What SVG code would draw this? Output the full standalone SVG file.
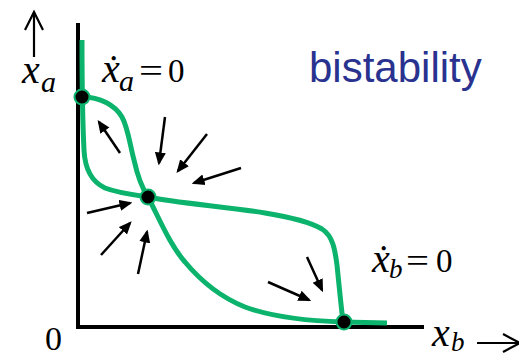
<svg xmlns="http://www.w3.org/2000/svg" width="519" height="357" viewBox="0 0 519 357">
<style>
  .axis { stroke: #000; stroke-width: 4; fill: none; }
  .curve { stroke: #0bb36c; stroke-width: 5; fill: none; stroke-linecap: butt; }
  .flow { stroke: #000; stroke-width: 2.5; fill: none; marker-end: url(#head); }
  .thin { stroke: #000; stroke-width: 2.2; fill: none; }
  .eq { fill: #000; stroke: #0bb36c; stroke-width: 2; }
  .m { font-family: "Liberation Serif", "Times New Roman", serif; fill: #000; }
  .i { font-style: italic; }
  .title { font-family: "Liberation Sans", Arial, sans-serif; font-size: 42px; fill: #29338f; }
</style>
<defs>
  <marker id="head" markerUnits="userSpaceOnUse" markerWidth="13" markerHeight="12" refX="10.5" refY="6" orient="auto">
    <path d="M0,0.5 L13,6 L0,11.5 Z" fill="#000"/>
  </marker>
</defs>

<g id="axes">
  <line class="axis" x1="78" y1="23" x2="78" y2="329"/>
  <line class="axis" x1="76" y1="327" x2="424" y2="327"/>
  <line class="thin" x1="34" y1="57" x2="34" y2="12"/>
  <polyline class="thin" points="25,30 34,12 43,30"/>
  <line class="thin" x1="477" y1="343" x2="519" y2="343"/>
  <polyline class="thin" points="503,334 520,343 503,352"/>
</g>

<g id="nullclines">
  <path id="nullcline-a" class="curve" d="M82,40 C82,70 83,130 84,150 C85,170 92,182 105,188 C118,193 135,195 148,197 C175,203 230,207 265,213 C290,217 310,222 322,229 C333,236 335,250 337,265 C339,285 341,305 343,322"/>
  <path id="nullcline-b" class="curve" d="M82,97 C100,97 115,105 122,117 C128,128 130,145 134,160 C138,178 142,188 148,197 C160,220 170,245 185,262 C200,280 220,297 245,307 C275,318 310,321 343,322 L387,323"/>
</g>

<g id="connectors">
  <line class="flow" x1="120" y1="153" x2="99" y2="122"/>
  <line class="flow" x1="165" y1="117" x2="159" y2="163"/>
  <line class="flow" x1="207" y1="134" x2="178" y2="171"/>
  <line class="flow" x1="241" y1="168" x2="194" y2="183"/>
  <line class="flow" x1="87" y1="213" x2="130" y2="203"/>
  <line class="flow" x1="101" y1="255" x2="130" y2="223"/>
  <line class="flow" x1="138" y1="274" x2="147" y2="232"/>
  <line class="flow" x1="268" y1="282" x2="309" y2="300"/>
  <line class="flow" x1="307" y1="257" x2="322" y2="290"/>
</g>

<g id="eq-high-a">
  <circle class="eq" cx="82" cy="97" r="7.5"/>
</g>
<g id="eq-saddle">
  <circle class="eq" cx="148" cy="197" r="7.5"/>
</g>
<g id="eq-high-b">
  <circle class="eq" cx="344" cy="322" r="7.5"/>
</g>

<g id="label-xa">
  <text class="m i" x="22" y="83" font-size="40">x</text>
  <text class="m i" x="41" y="92" font-size="30">a</text>
</g>
<g id="label-xb">
  <text class="m i" x="432" y="346" font-size="40">x</text>
  <text class="m i" x="451" y="351" font-size="27">b</text>
</g>
<g id="label-origin">
  <text class="m" x="45" y="350" font-size="34">0</text>
</g>
<g id="label-xa-dot">
  <text class="m i" x="102" y="82" font-size="40">ẋ</text>
  <text class="m i" x="119" y="91" font-size="30">a</text>
  <text class="m" x="139" y="82" font-size="33" textLength="24" lengthAdjust="spacingAndGlyphs">=</text>
  <text class="m" x="168" y="82" font-size="33">0</text>
</g>
<g id="label-xb-dot">
  <text class="m i" x="372" y="272" font-size="40">ẋ</text>
  <text class="m i" x="389" y="278" font-size="27">b</text>
  <text class="m" x="406" y="272" font-size="33" textLength="23" lengthAdjust="spacingAndGlyphs">=</text>
  <text class="m" x="436" y="272" font-size="33">0</text>
</g>
<g id="title">
  <text class="title" x="309" y="82">bistability</text>
</g>
</svg>
